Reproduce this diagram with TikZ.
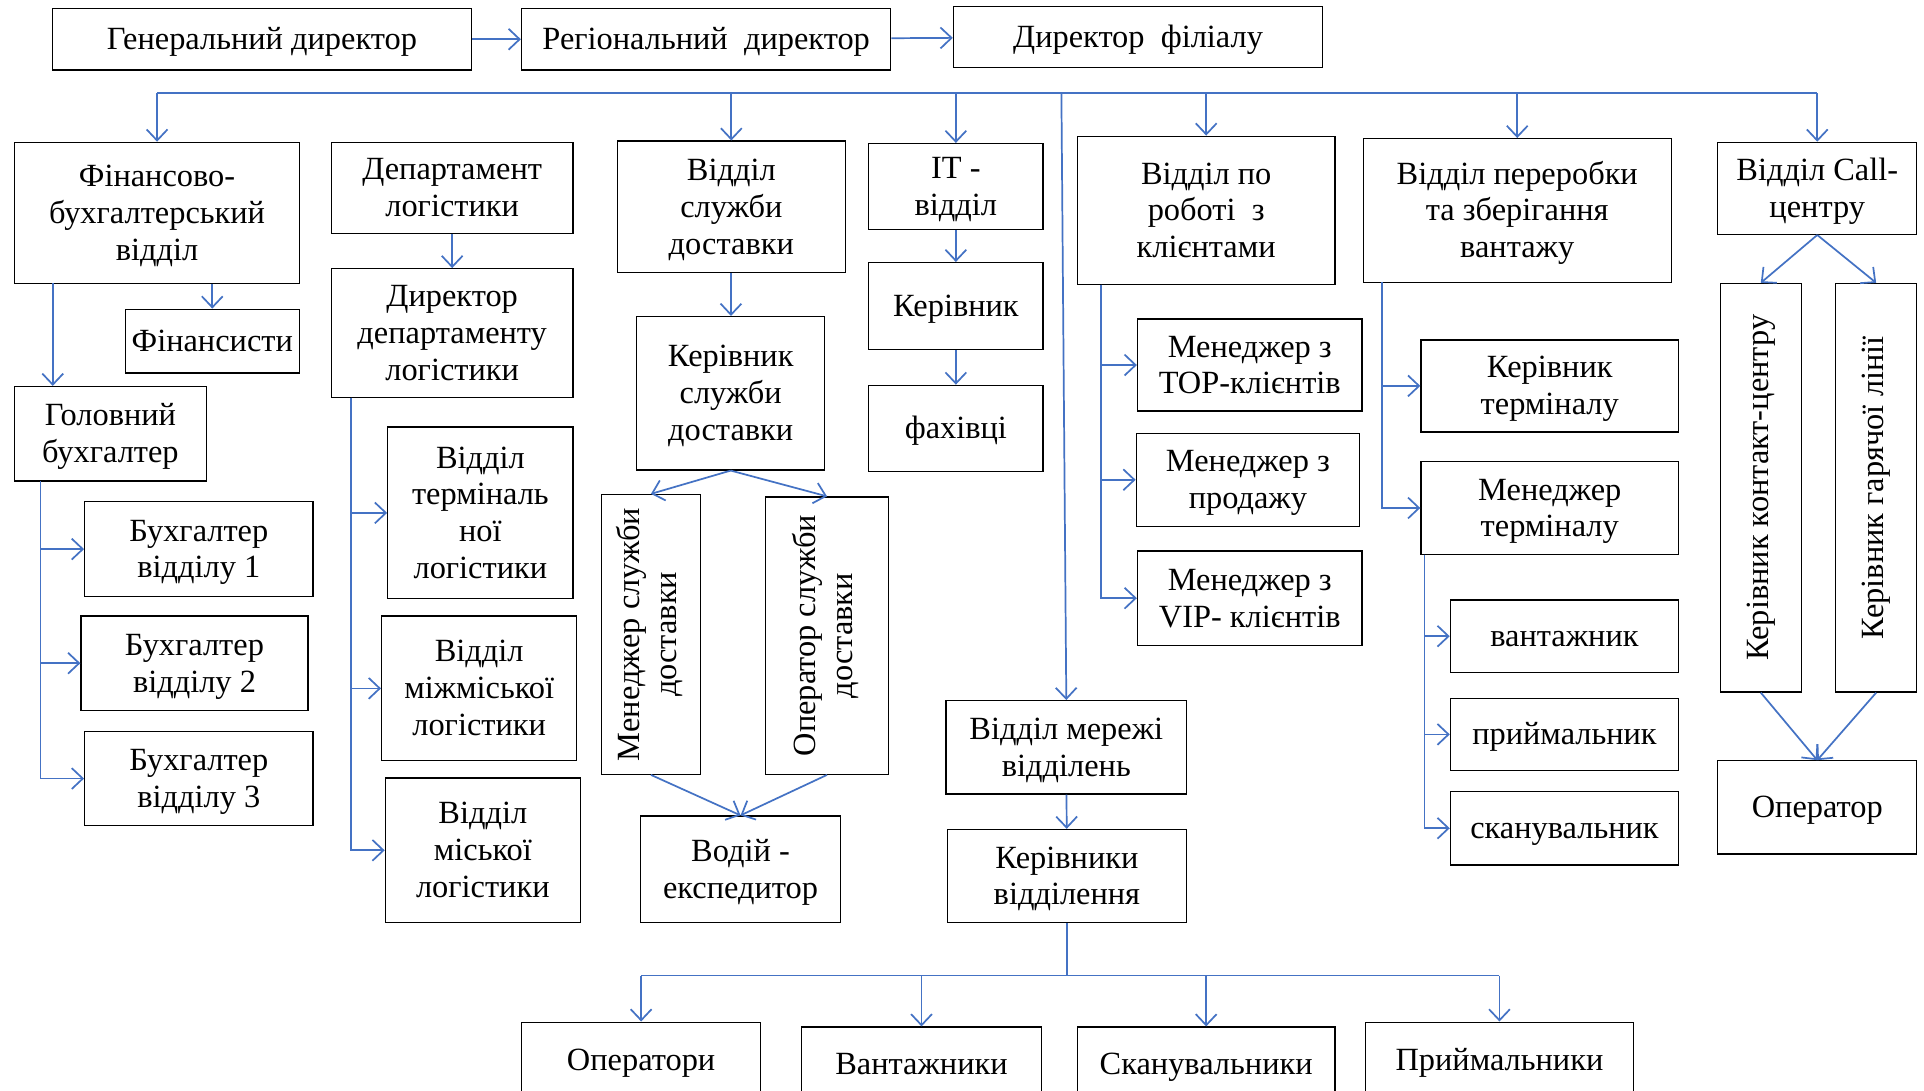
\documentclass[tikz,border=0pt]{standalone}
\usepackage{fontspec}
\usepackage{graphicx}
\setmainfont{Liberation Serif}
\usetikzlibrary{arrows.meta}
\definecolor{arrblue}{HTML}{4472C4}
\newcommand\mybox[6]{\node[box, minimum width={#4-#2}, minimum height={#5-#3}] (#1) at ({(#2+#4)/2},{(#3+#5)/2}) {\raisebox{-2.5pt}[\height][\depth]{\begin{tabular}{@{}c@{}}#6\end{tabular}}};}
\newcommand\myrbox[6]{\node[box, minimum width={#4-#2}, minimum height={#5-#3}] (#1) at ({(#2+#4)/2},{(#3+#5)/2}) {\rotatebox{90}{\begin{tabular}{@{}c@{}}#6\end{tabular}}};}
\begin{document}
\begin{tikzpicture}[x=1pt,y=-1pt,
  box/.style={draw=black, line width=1pt, inner sep=0pt, align=center, font=\fontsize{26.4}{30}\selectfont},
  arr/.style={draw=arrblue, line width=1.4pt, -{Straight Barb[length=9pt,width=17pt,line width=1.4pt]}},
  ln/.style={draw=arrblue, line width=1.4pt}]
\useasboundingbox (0,0) rectangle (1568,889);
\clip (0,0) rectangle (1568,889);
\fill[white] (0,0) rectangle (1568,889);
% top row
\mybox{gen}{43}{7}{384}{57}{Генеральний директор}
\mybox{reg}{425}{7}{726}{57}{Регіональний\ \ директор}
\mybox{dir}{777}{5}{1078}{55}{Директор\ \ філіалу}
\draw[arr] (gen) -- (reg);
\draw[arr] (reg) -- (dir);
% finance
\mybox{fin}{12}{116}{244}{231}{Фінансово-\\бухгалтерський\\відділ}
\mybox{fins}{102}{252}{244}{304}{Фінансисти}
\mybox{gb}{12}{315}{168}{392}{Головний\\бухгалтер}
\mybox{b1}{69}{409}{255}{486}{Бухгалтер\\відділу 1}
\mybox{b2}{66}{502}{251}{579}{Бухгалтер\\відділу 2}
\mybox{b3}{69}{596}{255}{673}{Бухгалтер\\відділу 3}
% logistics
\mybox{dep}{270}{116}{467}{190}{Департамент\\логістики}
\mybox{ddep}{270}{219}{467}{324}{Директор\\департаменту\\логістики}
\mybox{ter}{316}{348}{467}{488}{Відділ\\терміналь\\ної\\логістики}
\mybox{mizh}{311}{502}{470}{620}{Відділ\\міжміської\\логістики}
\mybox{misk}{314}{634}{473}{752}{Відділ\\міської\\логістики}
% delivery
\mybox{sd}{503}{115}{689}{222}{Відділ\\служби\\доставки}
\mybox{ksd}{519}{258}{672}{383}{Керівник\\служби\\доставки}
\myrbox{mgr}{490}{403}{571}{631}{Менеджер служби\\доставки}
\myrbox{oper}{624}{405}{724}{631}{Оператор служби\\доставки}
\mybox{vod}{522}{665}{685}{752}{Водій -\\експедитор}
% IT
\mybox{it}{708}{117}{850}{187}{IT -\\відділ}
\mybox{ker}{708}{214}{850}{285}{Керівник}
\mybox{fah}{708}{314}{850}{384}{фахівці}
% clients
\mybox{kl}{878}{111}{1088}{232}{Відділ по\\роботі\ \ з\\клієнтами}
\mybox{top}{927}{260}{1110}{335}{Менеджер з\\TOP-клієнтів}
\mybox{prod}{926}{353}{1108}{429}{Менеджер з\\продажу}
\mybox{vip}{927}{449}{1110}{526}{Менеджер з\\VIP- клієнтів}
% processing
\mybox{per}{1111}{113}{1362}{230}{Відділ переробки\\та зберігання\\вантажу}
\mybox{kt}{1158}{277}{1368}{352}{Керівник\\терміналу}
\mybox{mt}{1158}{376}{1368}{452}{Менеджер\\терміналу}
\mybox{van}{1182}{489}{1368}{548}{вантажник}
\mybox{pry}{1182}{569}{1368}{628}{приймальник}
\mybox{skn}{1182}{645}{1368}{705}{сканувальник}
% call centre
\mybox{call}{1400}{116}{1562}{191}{Відділ Call-\\центру}
\myrbox{kk}{1402}{231}{1468}{564}{Керівник контакт-центру}
\myrbox{kg}{1496}{231}{1562}{564}{Керівник гарячої лінії}
\mybox{op}{1400}{620}{1562}{696}{Оператор}
% branch network
\mybox{mer}{771}{571}{967}{647}{Відділ мережі\\відділень}
\mybox{kv}{772}{676}{967}{752}{Керівники\\відділення}
\mybox{ops}{425}{833}{620}{895}{Оператори}
\mybox{vnt}{653}{837}{849}{897}{Вантажники}
\mybox{scn}{878}{837}{1088}{897}{Сканувальники}
\mybox{prm}{1113}{833}{1331}{895}{Приймальники}
% main bus
\coordinate (busL) at (128,76);
\coordinate (busR) at (1481,76);
\coordinate (busM) at (865,76);
\draw[ln] (busL) -- (busR);
\draw[arr] (busL) -- (fin.north);
\draw[arr] (sd.north |- busL) -- (sd.north);
\draw[arr] (it.north |- busL) -- (it.north);
\draw[arr] (kl.north |- busL) -- (kl.north);
\draw[arr] (per.north |- busL) -- (per.north);
\draw[arr] (busR) -- (call.north);
\draw[arr] (busM) -- (mer.north);
% finance links
\draw[arr] (fin.south -| fins.north) -- (fins.north);
\coordinate (f1) at (43,231);
\draw[arr] (f1) -- (f1 |- gb.north);
\coordinate (g1) at (33,392);
\draw[arr] (g1) |- (b1.west);
\draw[arr] (g1) |- (b2.west);
\draw[arr] (g1) |- (b3.west);
% logistics links
\draw[arr] (dep) -- (ddep);
\coordinate (d1) at (286,324);
\draw[arr] (d1) |- (ter.west);
\draw[arr] (d1) |- (mizh.west);
\draw[arr] (d1) |- (misk.west);
% delivery links
\draw[arr] (sd) -- (ksd);
\draw[arr] (ksd.south) -- (mgr.north);
\draw[arr] (ksd.south) -- (oper.north);
\draw[arr] (mgr.south) -- (vod.north);
\draw[arr] (oper.south) -- (vod.north);
% IT links
\draw[arr] (it) -- (ker);
\draw[arr] (ker) -- (fah);
% clients links
\coordinate (k1) at (897,232);
\draw[arr] (k1) |- (top.west);
\draw[arr] (k1) |- (prod.west);
\draw[arr] (k1) |- (vip.west);
% processing links
\coordinate (p1) at (1126,230);
\draw[arr] (p1) |- (kt.west);
\draw[arr] (p1) |- (mt.west);
\coordinate (m1) at (1161,452);
\draw[arr] (m1) |- (van.west);
\draw[arr] (m1) |- (pry.west);
\draw[arr] (m1) |- (skn.west);
% call links
\draw[arr] (call.south) -- (kk.north);
\draw[arr] (call.south) -- (kg.north);
\draw[arr] (kk.south) -- (op.north);
\draw[arr] (kg.south) -- (op.north);
% branch links
\draw[arr] (mer) -- (kv);
\coordinate (kvb) at (869.5,795);
\draw[ln] (kv.south) -- (kvb);
\draw[ln] (ops.north |- kvb) -- (prm.north |- kvb);
\draw[arr] (ops.north |- kvb) -- (ops.north);
\draw[arr] (vnt.north |- kvb) -- (vnt.north);
\draw[arr] (scn.north |- kvb) -- (scn.north);
\draw[arr] (prm.north |- kvb) -- (prm.north);
\end{tikzpicture}
\end{document}
